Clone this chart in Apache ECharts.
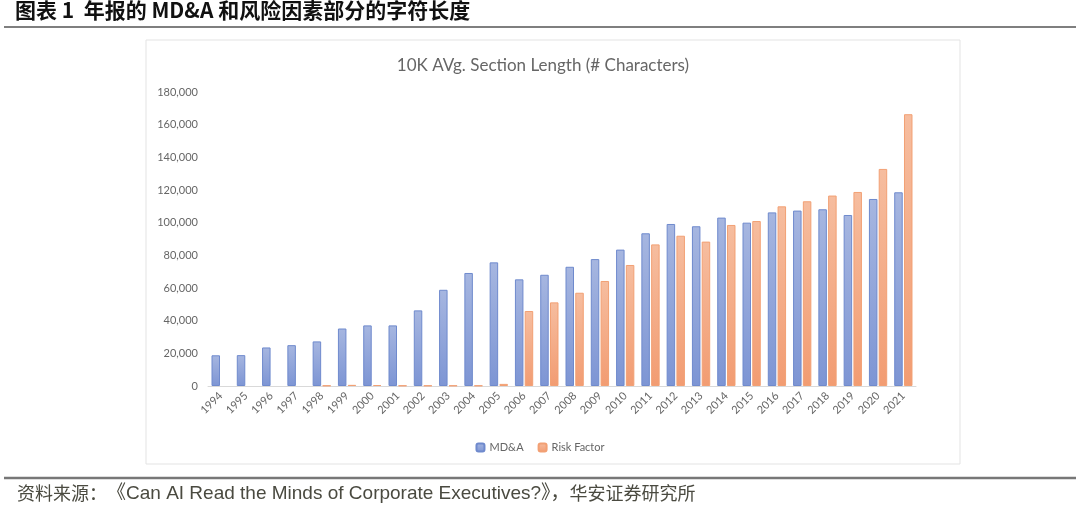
<!DOCTYPE html>
<html>
<head>
<meta charset="utf-8">
<title>10K AVg. Section Length</title>
<script src="https://cdn.jsdelivr.net/npm/echarts@6/dist/echarts.min.js"></script>
<style>
	html, body { margin: 0; padding: 0; background: #fff; }
	#chart-holder { width: 1080px; height: 511px; }
</style>
</head>
<body>
<div id="chart-holder"></div>
<script type="text/javascript">
	// 年份与两组数据
	var years = ['1994', '1995', '1996', '1997', '1998', '1999', '2000', '2001', '2002', '2003',
		'2004', '2005', '2006', '2007', '2008', '2009', '2010', '2011', '2012', '2013',
		'2014', '2015', '2016', '2017', '2018', '2019', '2020', '2021'];
	var mdaValues = [18800, 18900, 23600, 25000, 27300, 35200, 37100, 37100, 46300, 58900,
		69200, 75700, 65300, 68100, 73000, 77700, 83500, 93500, 99200, 97800,
		103100, 100000, 106300, 107400, 108200, 104700, 114500, 118600];
	var riskValues = [0, 0, 0, 0, 300, 700, 600, 300, 300, 300,
		300, 1300, 45900, 51200, 57100, 64300, 74100, 86700, 92000, 88400,
		98600, 101000, 110000, 113100, 116600, 118800, 132900, 166400];
	var seriesNames = ['MD&A', 'Risk Factor'];
	var yTicks = { min: 0, max: 180000, step: 20000 };

	function grad(top, bottom) {
		return new echarts.graphic.LinearGradient(0, 0, 0, 1, [
			{ offset: 0, color: top },
			{ offset: 1, color: bottom }
		]);
	}
	// 零值不画边框
	function barData(values) {
		return values.map(function (v) {
			return v === 0 ? { value: v, itemStyle: { borderWidth: 0 } } : v;
		});
	}

	var chart = echarts.init(document.getElementById('chart-holder'));
	var option = {
		backgroundColor: '#fff',
		animation: false,
		textStyle: { fontFamily: 'Lato, "Open Sans", sans-serif' },
		title: {
			text: '10K AVg. Section Length (# Characters)',
			left: 538,
			top: 52,
			textAlign: 'center',
			textStyle: { fontSize: 17, fontWeight: 'normal', color: '#666', fontFamily: 'Lato, "Open Sans", sans-serif' }
		},
		legend: {
			data: seriesNames,
			left: 'center',
			top: 437,
			itemWidth: 8,
			itemHeight: 8,
			itemGap: 14,
			textStyle: { fontSize: 11, color: '#666' }
		},
		grid: { left: 208, right: 164, top: 92, bottom: 125 },
		xAxis: {
			type: 'category',
			data: years,
			axisLine: { lineStyle: { color: '#d9d9d9' } },
			axisTick: { show: false },
			axisLabel: { rotate: 45, fontSize: 11, color: '#666', margin: 8, interval: 0 }
		},
		yAxis: {
			type: 'value',
			min: yTicks.min,
			max: yTicks.max,
			interval: yTicks.step,
			splitLine: { show: false },
			axisLine: { show: false },
			axisTick: { show: false },
			axisLabel: {
				fontSize: 11,
				color: '#666',
				margin: 10,
				formatter: function (v) { return v.toLocaleString('en-US'); }
			}
		},
		series: [
			{
				name: seriesNames[0],
				type: 'bar',
				data: barData(mdaValues),
				barWidth: 8.5,
				barGap: '15%',
				itemStyle: { color: grad('#a6b6e0', '#7d95d4'), borderColor: '#6f8acd', borderWidth: 1 }
			},
			{
				name: seriesNames[1],
				type: 'bar',
				data: barData(riskValues),
				barWidth: 8.5,
				itemStyle: { color: grad('#f6bd9f', '#f29c72'), borderColor: '#f2a074', borderWidth: 1 }
			}
		],
		graphic: [
			{
				type: 'text', left: 15, top: 0,
				style: { text: '图表 1  年报的 MD&A 和风险因素部分的字符长度', fontSize: 21, fontWeight: 'bold', fill: '#111', fontFamily: '"Noto Sans CJK SC", "Liberation Sans", sans-serif' }
			},
			{ type: 'line', shape: { x1: 4, y1: 27, x2: 1076, y2: 27 }, style: { stroke: '#555', lineWidth: 1.5 } },
			{ type: 'rect', shape: { x: 146, y: 40, width: 814, height: 424 }, style: { fill: 'none', stroke: '#e3e3e3', lineWidth: 1 }, z: -1 },
			{ type: 'line', shape: { x1: 4, y1: 478, x2: 1076, y2: 478 }, style: { stroke: '#777', lineWidth: 2.5 } },
			{
				type: 'text', left: 17, top: 484,
				style: {
					text: '{a|资料来源：}{b|《Can AI Read the Minds of Corporate Executives?》，}{a|华安证券研究所}',
					rich: {
						a: { fontSize: 18, fill: '#4a4a40', fontFamily: '"Noto Sans CJK SC", sans-serif' },
						b: { fontSize: 19, fill: '#4a4a40', fontFamily: '"Liberation Sans", "Noto Sans CJK SC", sans-serif' }
					}
				}
			}
		]
	};
	chart.setOption(option);
</script>
</body>
</html>
